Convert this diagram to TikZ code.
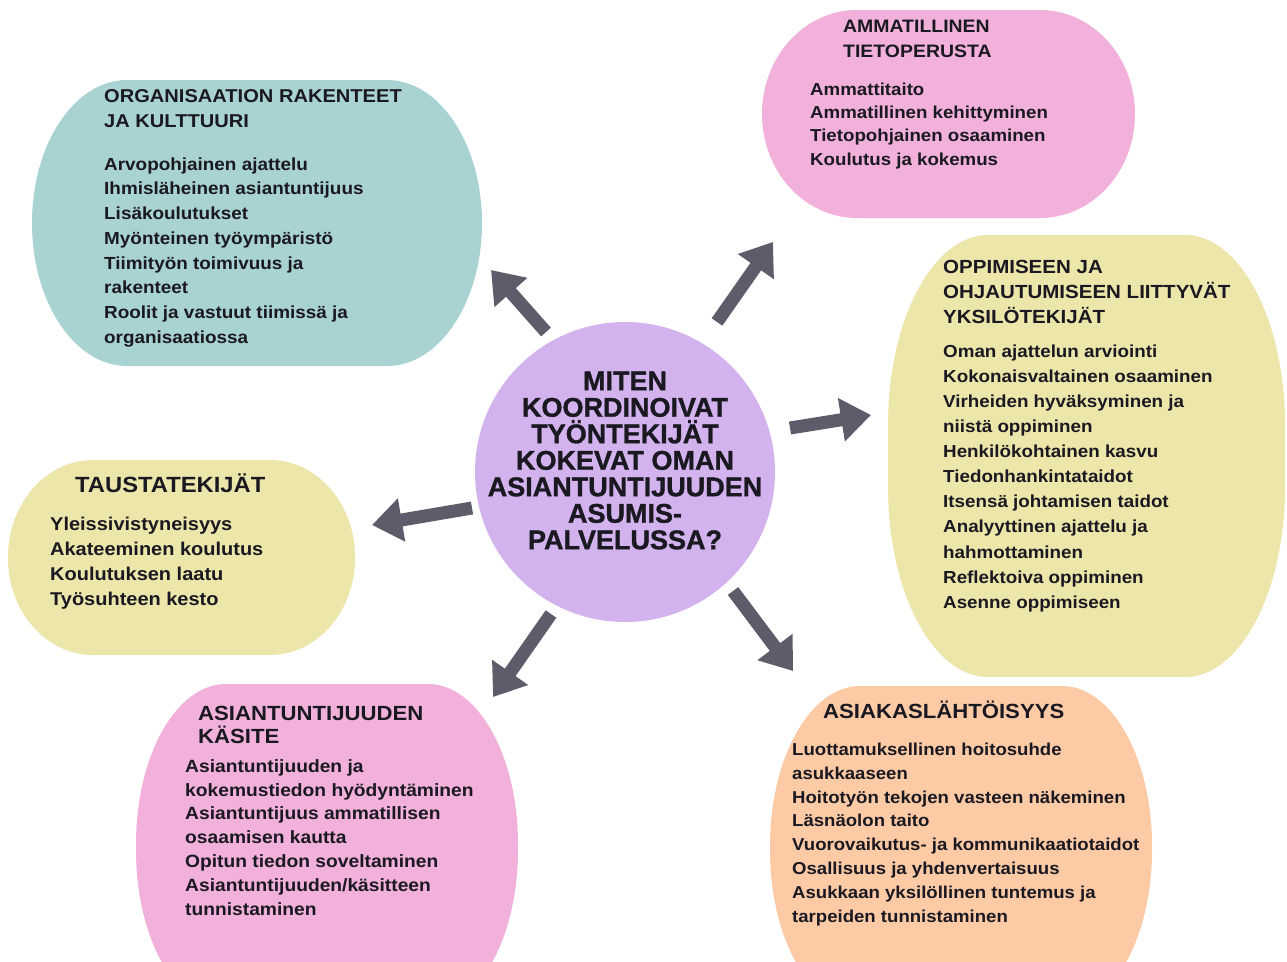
\documentclass[tikz,border=0pt]{standalone}
\usepackage{fontspec}
\setmainfont{Liberation Sans}[FakeStretch=1.08]
\newfontfamily\ctrfont{Liberation Sans}[BoldFeatures={FakeBold=1.2}]
\usetikzlibrary{arrows.meta}
\definecolor{cTeal}{HTML}{A9D2D3}
\definecolor{cPink}{HTML}{F2B1DA}
\definecolor{cYel}{HTML}{EDE6AA}
\definecolor{cPeach}{HTML}{FDCAA6}
\definecolor{cPurp}{HTML}{D3B3EE}
\definecolor{cArr}{HTML}{5E5B6B}
\definecolor{cTxt}{HTML}{1A1820}
\newcommand\myblob[7]{%
 \pgfmathsetmacro\bxa{#2}\pgfmathsetmacro\bya{#3}\pgfmathsetmacro\bxb{#4}\pgfmathsetmacro\byb{#5}%
 \pgfmathsetmacro\brx{#6}\pgfmathsetmacro\bry{#7}%
 \pgfmathsetmacro\bkx{0.4477*\brx}\pgfmathsetmacro\bky{0.4477*\bry}%
 \fill[#1] ({\bxa+\brx},\bya) -- ({\bxb-\brx},\bya)
   .. controls ({\bxb-\bkx},\bya) and (\bxb,{\bya+\bky}) .. (\bxb,{\bya+\bry})
   -- (\bxb,{\byb-\bry})
   .. controls (\bxb,{\byb-\bky}) and ({\bxb-\bkx},\byb) .. ({\bxb-\brx},\byb)
   -- ({\bxa+\brx},\byb)
   .. controls ({\bxa+\bkx},\byb) and (\bxa,{\byb-\bky}) .. (\bxa,{\byb-\bry})
   -- (\bxa,{\bya+\bry})
   .. controls (\bxa,{\bya+\bky}) and ({\bxa+\bkx},\bya) .. ({\bxa+\brx},\bya) -- cycle;}
\newcommand\fsz[2]{\fontsize{#1}{#2}\selectfont}
\newcommand\tstrut{\rule{0pt}{24pt}}
\begin{document}
\begin{tikzpicture}[x=1pt,y=-1pt,
  txt/.style={anchor=north west, inner sep=0pt, align=left, text=cTxt, font=\bfseries},
  arr/.style={draw=cArr, line width=13pt, -{Triangle[width=42pt,length=30pt]}}]
\useasboundingbox (0,0) rectangle (1287,961);
\fill[white] (0,0) rectangle (1287,961);
\begin{scope}
\clip (0,0) rectangle (1287,961);
\myblob{cTeal}{32}{80}{482}{366}{95}{143}
\myblob{cPink}{762}{10}{1135}{218}{95}{104}
\myblob{cYel}{888}{235}{1285}{677}{100}{190}
\myblob{cYel}{8}{460}{355}{655}{85}{97}
\myblob{cPink}{136}{684}{518}{1010}{90}{160}
\myblob{cPeach}{770}{686}{1152}{1010}{90}{160}
\end{scope}
\node[circle, fill=cPurp, minimum size=300pt, inner sep=0pt] (ctr) at (625,472) {};
\node[anchor=north, inner sep=0pt, align=center, text=cTxt, font=\ctrfont\bfseries\fsz{27}{26.5}] (ctrT) at (625,366)
  {\tstrut MITEN\\KOORDINOIVAT\\TYÖNTEKIJÄT\\KOKEVAT OMAN\\ASIANTUNTIJUUDEN\\ASUMIS-\\PALVELUSSA?};
% arrows
\coordinate (t1) at (546,332); \coordinate (h1) at (491,270);
\coordinate (t2) at (717,322); \coordinate (h2) at (773,242);
\coordinate (t3) at (790,428); \coordinate (h3) at (871,415);
\coordinate (t4) at (733,591); \coordinate (h4) at (793,671);
\coordinate (t5) at (551,614); \coordinate (h5) at (493,697);
\coordinate (t6) at (472,508); \coordinate (h6) at (372,525);
\draw[arr] (t1) -- (h1);
\draw[arr] (t2) -- (h2);
\draw[arr] (t3) -- (h3);
\draw[arr] (t4) -- (h4);
\draw[arr] (t5) -- (h5);
\draw[arr] (t6) -- (h6);
% teal
\node[txt, font=\bfseries\fsz{18.6}{25}] (orgH) at (104,78) {\tstrut ORGANISAATION RAKENTEET\\JA KULTTUURI};
\node[txt, font=\bfseries\fsz{17.5}{24.7}] (orgT) at (104,146) {\tstrut Arvopohjainen ajattelu\\Ihmisläheinen asiantuntijuus\\Lisäkoulutukset\\Myönteinen työympäristö\\Tiimityön toimivuus ja\\rakenteet\\Roolit ja vastuut tiimissä ja\\organisaatiossa};
% pink top
\node[txt, font=\bfseries\fsz{18}{25}] (ammH) at (843,8) {\tstrut AMMATILLINEN\\TIETOPERUSTA};
\node[txt, font=\bfseries\fsz{17.3}{23.3}] (ammT) at (810,71) {\tstrut Ammattitaito\\Ammatillinen kehittyminen\\Tietopohjainen osaaminen\\Koulutus ja kokemus};
% yellow right
\node[txt, font=\bfseries\fsz{19}{25}] (oppH) at (943,249) {\tstrut OPPIMISEEN JA\\OHJAUTUMISEEN LIITTYVÄT\\YKSILÖTEKIJÄT};
\node[txt, font=\bfseries\fsz{17.4}{25.1}] (oppT) at (943,333) {\tstrut Oman ajattelun arviointi\\Kokonaisvaltainen osaaminen\\Virheiden hyväksyminen ja\\niistä oppiminen\\Henkilökohtainen kasvu\\Tiedonhankintataidot\\Itsensä johtamisen taidot\\Analyyttinen ajattelu ja\\hahmottaminen\\Reflektoiva oppiminen\\Asenne oppimiseen};
% yellow left
\node[txt, font=\bfseries\fsz{22}{25}] (tauH) at (75,468) {\tstrut TAUSTATEKIJÄT};
\node[txt, font=\bfseries\fsz{18.5}{25}] (tauT) at (50,506) {\tstrut Yleissivistyneisyys\\Akateeminen koulutus\\Koulutuksen laatu\\Työsuhteen kesto};
% pink bottom
\node[txt, font=\bfseries\fsz{20.5}{23}] (asiH) at (198,696) {\tstrut ASIANTUNTIJUUDEN\\KÄSITE};
\node[txt, font=\bfseries\fsz{17.8}{23.8}] (asiT) at (185,748) {\tstrut Asiantuntijuuden ja\\kokemustiedon hyödyntäminen\\Asiantuntijuus ammatillisen\\osaamisen kautta\\Opitun tiedon soveltaminen\\Asiantuntijuuden/käsitteen\\tunnistaminen};
% peach
\node[txt, font=\bfseries\fsz{20.5}{23}] (aspH) at (823,694) {\tstrut ASIAKASLÄHTÖISYYS};
\node[txt, font=\bfseries\fsz{17.2}{23.9}] (aspT) at (792,731) {\tstrut Luottamuksellinen hoitosuhde\\asukkaaseen\\Hoitotyön tekojen vasteen näkeminen\\Läsnäolon taito\\Vuorovaikutus- ja kommunikaatiotaidot\\Osallisuus ja yhdenvertaisuus\\Asukkaan yksilöllinen tuntemus ja\\tarpeiden tunnistaminen};
\end{tikzpicture}
\end{document}
